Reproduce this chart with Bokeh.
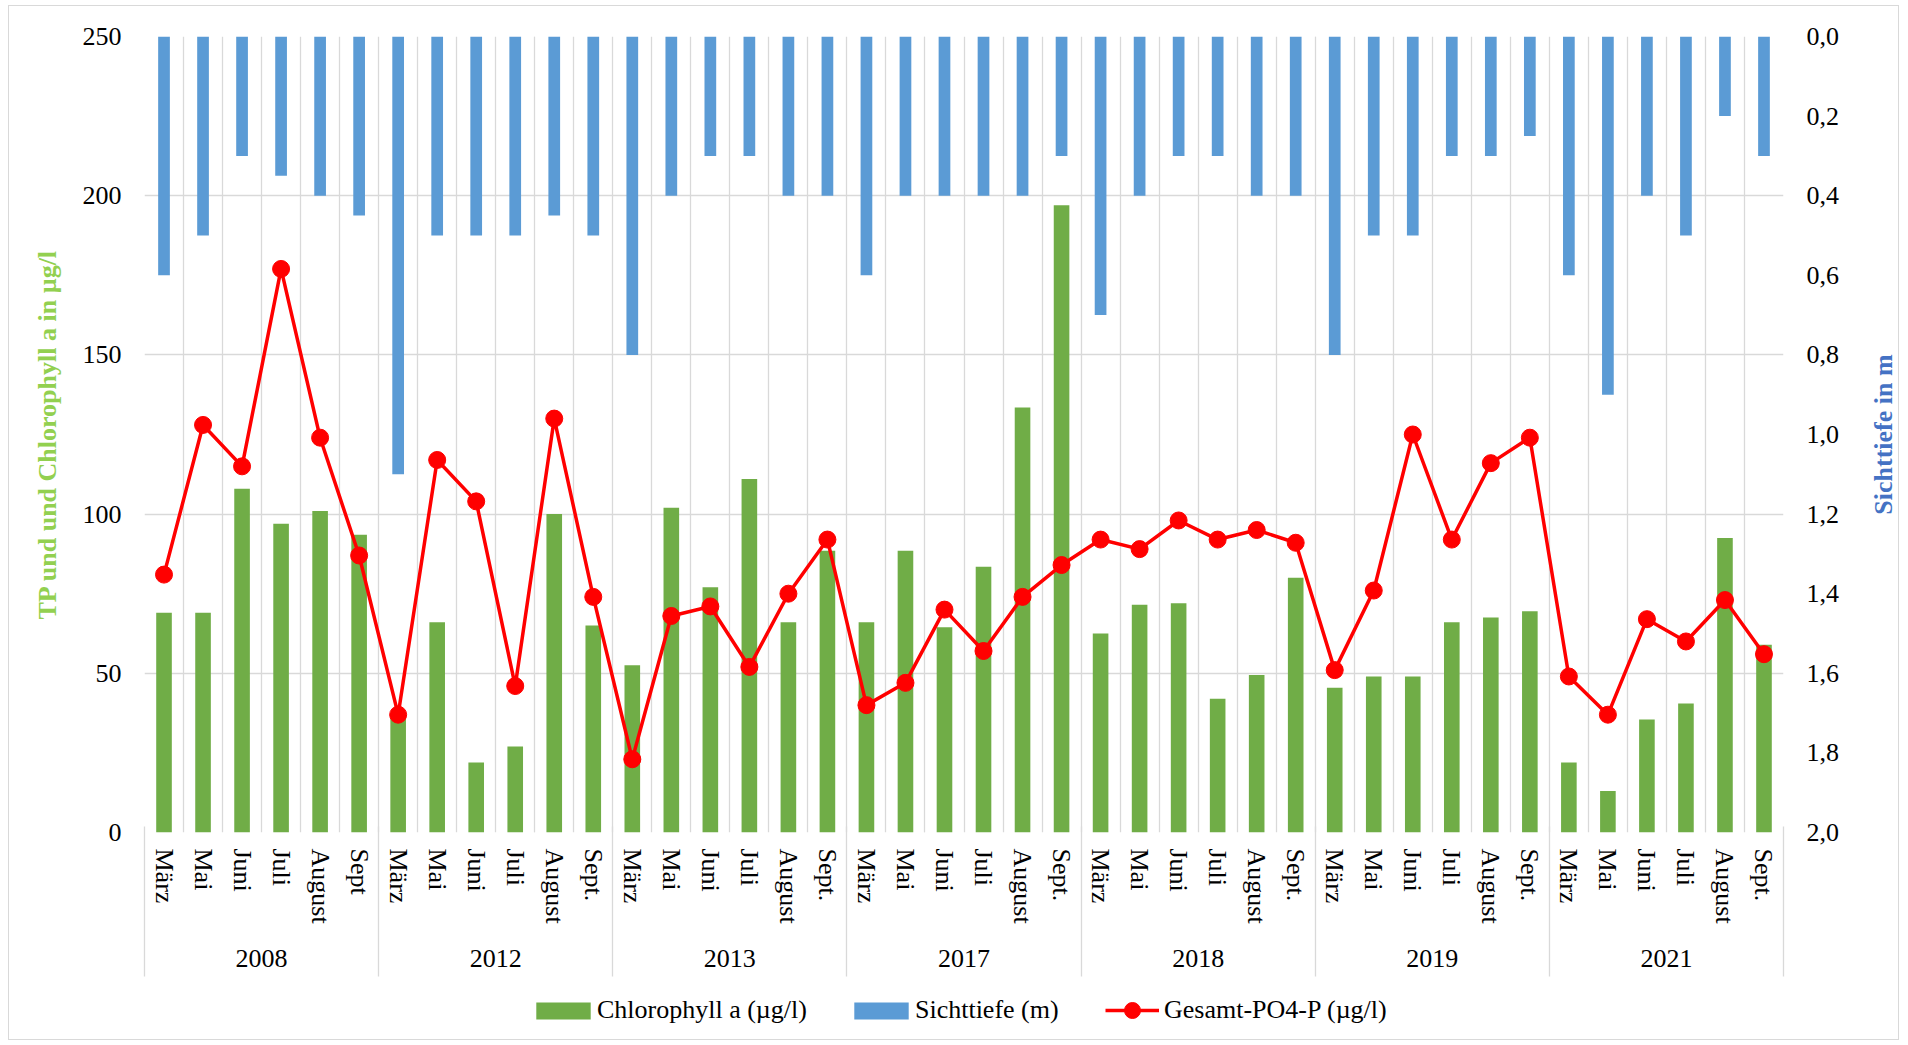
import math
from bokeh.plotting import figure
from bokeh.layouts import column, row
from bokeh.models import (Range1d, LinearAxis, FixedTicker, CustomJSTickFormatter,
                          Legend, LegendItem, Grid, ColumnDataSource)
from bokeh.embed import file_html
from bokeh.resources import INLINE

# ---------------- data ----------------
years = ["2008", "2012", "2013", "2017", "2018", "2019", "2021"]
months_2008 = ["März", "Mai", "Juni", "Juli", "August", "Sept"]
months_other = ["März", "Mai", "Juni", "Juli", "August", "Sept."]
month_labels = months_2008 + months_other * 6

chlorophyll = [69, 69, 108, 97, 101, 93.5,
               36, 66, 22, 27, 100, 65,
               52.5, 102, 77, 111, 66, 88.5,
               66, 88.5, 64.5, 83.5, 133.5, 197,
               62.5, 71.5, 72, 42, 49.5, 80,
               45.5, 49, 49, 66, 67.5, 69.5,
               22, 13, 35.5, 40.5, 92.5, 59]

sichttiefe = [0.6, 0.5, 0.3, 0.35, 0.4, 0.45,
              1.1, 0.5, 0.5, 0.5, 0.45, 0.5,
              0.8, 0.4, 0.3, 0.3, 0.4, 0.4,
              0.6, 0.4, 0.4, 0.4, 0.4, 0.3,
              0.7, 0.4, 0.3, 0.3, 0.4, 0.4,
              0.8, 0.5, 0.5, 0.3, 0.3, 0.25,
              0.6, 0.9, 0.4, 0.5, 0.2, 0.3]

po4 = [81, 128, 115, 177, 124, 87,
       37, 117, 104, 46, 130, 74,
       23, 68, 71, 52, 75, 92,
       40, 47, 70, 57, 74, 84,
       92, 89, 98, 92, 95, 91,
       51, 76, 125, 92, 116, 124,
       49, 37, 67, 60, 73, 56]

left_ticks = [0, 50, 100, 150, 200, 250]
right_ticks = [0.0, 0.2, 0.4, 0.6, 0.8, 1.0, 1.2, 1.4, 1.6, 1.8, 2.0]

# ---------------- styles ----------------
FONT = "Liberation Serif"
GREEN = "#70AD47"
BLUE = "#5B9BD5"
RED = "#FF0000"
GRID = "#D9D9D9"

W = 1889          # total inner width
W_TITLE = 56      # strip on the right holding the right axis title
H_MAIN = 976
n = len(month_labels)
per_year = len(months_other)
xs = [i + 0.5 for i in range(n)]
src = ColumnDataSource(dict(x=xs, chl=chlorophyll, depth=sichttiefe, po4=po4))

p = figure(width=W - W_TITLE, height=H_MAIN, x_range=Range1d(0, n), y_range=Range1d(0, 250),
           output_backend="svg", toolbar_location=None,
           x_axis_location=None, y_axis_location="left",
           min_border_left=135, min_border_right=58, min_border_top=30, min_border_bottom=150)
p.outline_line_color = None
p.background_fill_color = "white"
p.border_fill_color = "white"

p.extra_y_ranges = {"depth": Range1d(start=2.0, end=0.0)}

# grids
p.ygrid.ticker = FixedTicker(ticks=left_ticks)
p.ygrid.grid_line_color = GRID
p.ygrid.grid_line_width = 1.3
vgrid = Grid(dimension=0, ticker=FixedTicker(ticks=list(range(n + 1))),
             grid_line_color=GRID, grid_line_width=1.3)
p.add_layout(vgrid, "center")

def style_ticks(ax):
    ax.axis_line_color = None
    ax.major_tick_line_color = None
    ax.minor_tick_line_color = None
    ax.major_tick_in = 0
    ax.major_tick_out = 0
    ax.minor_tick_in = 0
    ax.minor_tick_out = 0
    ax.major_label_text_font = FONT
    ax.major_label_text_font_size = "26px"
    ax.major_label_text_color = "black"

# left axis
ly = p.left[0]
ly.ticker = FixedTicker(ticks=left_ticks)
style_ticks(ly)
ly.major_label_standoff = 23
ly.axis_label = "TP und und Chlorophyll a in µg/l"
ly.axis_label_text_font = FONT
ly.axis_label_text_font_size = "26px"
ly.axis_label_text_font_style = "bold"
ly.axis_label_text_color = "#92D050"
ly.axis_label_standoff = 18

# right axis (tick labels)
ry = LinearAxis(y_range_name="depth", ticker=FixedTicker(ticks=right_ticks),
                formatter=CustomJSTickFormatter(code="return tick.toFixed(1).replace('.', ',');"))
style_ticks(ry)
ry.major_label_standoff = 23
p.add_layout(ry, "right")

# bottom: month labels
ax_m = LinearAxis(ticker=FixedTicker(ticks=xs),
                  formatter=CustomJSTickFormatter(args=dict(labels=month_labels),
                                                  code="return labels[Math.round(tick - 0.5)];"))
style_ticks(ax_m)
ax_m.major_label_orientation = "vertical"
ax_m.major_label_standoff = 16
p.add_layout(ax_m, "below")

# bottom: year labels, with year separators drawn as minor ticks
year_ticks = [per_year * j + per_year / 2 for j in range(len(years))]
ax_y = LinearAxis(ticker=FixedTicker(ticks=year_ticks,
                                     minor_ticks=list(range(0, n + 1, per_year))),
                  formatter=CustomJSTickFormatter(args=dict(labels=years),
                                                  code="return labels[Math.round((tick - 3) / 6)];"))
style_ticks(ax_y)
ax_y.minor_tick_line_color = GRID
ax_y.minor_tick_line_width = 1.3
ax_y.minor_tick_in = 100
ax_y.minor_tick_out = 50
ax_y.major_label_standoff = -27
p.add_layout(ax_y, "below")

# ---------------- glyphs ----------------
p.vbar(x="x", top="chl", bottom=0, width=0.4, source=src, fill_color=GREEN, line_color=None)
p.vbar(x="x", top=0, bottom="depth", width=0.3, source=src,
       y_range_name="depth", fill_color=BLUE, line_color=None)
p.line(x="x", y="po4", source=src, line_color=RED, line_width=3.5)
p.scatter(x="x", y="po4", source=src, size=17, fill_color=RED, line_color=RED)

# ---------------- right axis title strip (Sichttiefe scale) ----------------
tf = figure(width=W_TITLE, height=H_MAIN, x_range=Range1d(0, 1), y_range=Range1d(start=2.0, end=0.0),
            output_backend="svg", toolbar_location=None,
            x_axis_location=None, y_axis_location="left",
            min_border_left=55, min_border_right=0, min_border_top=30, min_border_bottom=150)
tf.outline_line_color = None
tf.xgrid.visible = False
tf.ygrid.visible = False
tf.background_fill_color = "white"
tf.border_fill_color = "white"
ty = tf.left[0]
ty.ticker = FixedTicker(ticks=[])
style_ticks(ty)
ty.major_label_standoff = 0
ty.axis_label = "Sichttiefe in m"
ty.axis_label_text_font = FONT
ty.axis_label_text_font_size = "26px"
ty.axis_label_text_font_style = "bold"
ty.axis_label_text_color = "#4472C4"
ty.axis_label_standoff = 0

# ---------------- legend strip (same series, drawn below the chart) ----------------
lf = figure(width=W, height=57, x_range=Range1d(0, n), y_range=Range1d(1000, 1001),
            output_backend="svg", toolbar_location=None,
            x_axis_location=None, y_axis_location=None,
            min_border_left=135, min_border_right=0, min_border_top=0, min_border_bottom=0)
lf.outline_line_color = None
lf.xgrid.visible = False
lf.ygrid.visible = False
lf.background_fill_color = "white"
lf.border_fill_color = "white"

l_chl = lf.vbar(x="x", top="chl", bottom=0, width=0.4, source=src, fill_color=GREEN, line_color=None)
l_depth = lf.vbar(x="x", top="depth", bottom=0, width=0.3, source=src, fill_color=BLUE, line_color=None)
l_line = lf.line(x="x", y="po4", source=src, line_color=RED, line_width=3.5)
l_pts = lf.scatter(x="x", y="po4", source=src, size=17, fill_color=RED, line_color=RED)

def style_legend(lg):
    lg.padding = 0
    lg.margin = 0
    lg.label_text_font = FONT
    lg.label_text_font_size = "26px"
    lg.label_text_color = "black"
    lg.border_line_color = None
    lg.background_fill_alpha = 0

leg1 = Legend(items=[
    LegendItem(label="Chlorophyll a (µg/l)", renderers=[l_chl]),
    LegendItem(label="Sichttiefe (m)", renderers=[l_depth]),
], orientation="horizontal", location=(385, 14))
style_legend(leg1)
leg1.spacing = 40
leg1.label_standoff = 0
leg1.glyph_width = 68
leg1.glyph_height = 21
lf.add_layout(leg1, "center")

leg2 = Legend(items=[
    LegendItem(label="Gesamt-PO4-P (µg/l)", renderers=[l_line, l_pts]),
], orientation="horizontal", location=(961, 9))
style_legend(leg2)
leg2.label_standoff = 5
leg2.glyph_width = 54
leg2.glyph_height = 40
lf.add_layout(leg2, "center")

layout = column(row(p, tf, spacing=0), lf, spacing=0)
layout.styles = {"border": "1px solid #D9D9D9", "margin-left": "8px", "margin-top": "5px"}

open("out.html", "w").write(file_html(layout, INLINE))
